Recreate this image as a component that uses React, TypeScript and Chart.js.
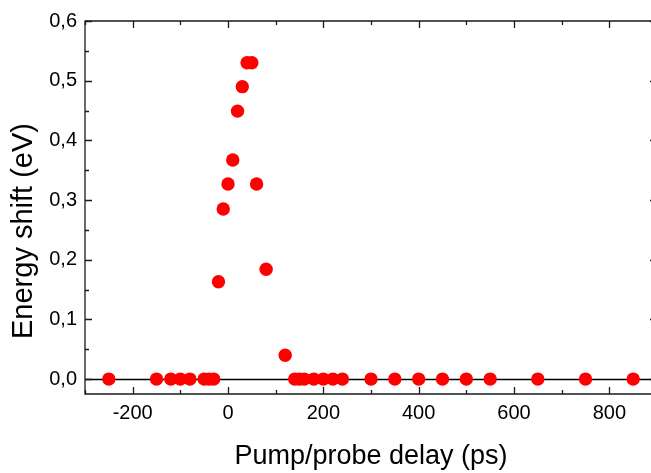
import React, { useEffect, useRef } from "react";
import { Chart, registerables } from "chart.js";

Chart.register(...registerables);

const delays = [-250, -150, -120, -100, -80, -50, -40, -30, -20, -10, 0, 10, 20, 30, 40, 50, 60, 80, 120, 140, 150, 160, 180, 200, 220, 240, 300, 350, 400, 450, 500, 550, 650, 750, 850];
const shifts = [0, 0, 0, 0, 0, 0, 0, 0, 0.163, 0.285, 0.327, 0.367, 0.449, 0.49, 0.53, 0.53, 0.327, 0.184, 0.04, 0, 0, 0, 0, 0, 0, 0, 0, 0, 0, 0, 0, 0, 0, 0, 0];
const xMajorTicks = [-200, 0, 200, 400, 600, 800];
const xMinorTicks = [-300, -100, 100, 300, 500, 700, 900];
const yMajorTicks = [0, 0.1, 0.2, 0.3, 0.4, 0.5, 0.6];
const yMinorTicks = [0.05, 0.15, 0.25, 0.35, 0.45, 0.55];
const xTitle = "Pump/probe delay (ps)";
const yTitle = "Energy shift (eV)";

const FONT = "Arial, 'Liberation Sans', sans-serif";

const framePlugin = {
  id: "frame",
  beforeDatasetsDraw(chart: any) {
    const { ctx, chartArea, scales } = chart;
    const y0 = Math.round(scales.y.getPixelForValue(0)) + 0.5;
    ctx.save();
    ctx.strokeStyle = "#000";
    ctx.lineWidth = 1.6;
    ctx.beginPath();
    ctx.moveTo(chartArea.left, y0);
    ctx.lineTo(chartArea.right, y0);
    ctx.stroke();
    ctx.restore();
  },
  afterDraw(chart: any) {
    const { ctx, chartArea, scales } = chart;
    const { left, right, top, bottom } = chartArea;
    ctx.save();
    ctx.strokeStyle = "#1a1a1a";
    ctx.lineWidth = 1.3;
    ctx.beginPath();
    ctx.rect(left, top, right - left, bottom - top);
    ctx.stroke();
    const major = 7;
    const minor = 4;
    ctx.beginPath();
    const xt = (v: number, len: number) => {
      const px = Math.round(scales.x.getPixelForValue(v)) + 0.5;
      ctx.moveTo(px, bottom);
      ctx.lineTo(px, bottom - len);
      ctx.moveTo(px, top);
      ctx.lineTo(px, top + len);
    };
    const yt = (v: number, len: number) => {
      const py = Math.round(scales.y.getPixelForValue(v)) + 0.5;
      ctx.moveTo(left, py);
      ctx.lineTo(left + len, py);
      ctx.moveTo(right, py);
      ctx.lineTo(right - len, py);
    };
    xMajorTicks.forEach((v) => xt(v, major));
    xMinorTicks.forEach((v) => xt(v, minor));
    yMajorTicks.forEach((v) => yt(v, major));
    yMinorTicks.forEach((v) => yt(v, minor));
    ctx.stroke();

    // y-axis title
    ctx.translate(24, 231);
    ctx.rotate(-Math.PI / 2);
    ctx.fillStyle = "#000";
    ctx.font = `29px ${FONT}`;
    ctx.textAlign = "center";
    ctx.textBaseline = "middle";
    ctx.fillText(yTitle, 0, 0);
    ctx.restore();
  },
};

export default function App() {
  const ref = useRef<HTMLCanvasElement | null>(null);
  useEffect(() => {
    if (!ref.current) return;
    const chart = new Chart(ref.current, {
      type: "scatter",
      data: {
        datasets: [
          {
            data: delays.map((d, i) => ({ x: d, y: shifts[i] })),
            backgroundColor: "#ff0000",
            borderWidth: 0,
            pointRadius: 6.7,
            pointHoverRadius: 6.7,
          },
        ],
      },
      options: {
        animation: false,
        responsive: false,
        devicePixelRatio: 1,
        events: [],
        layout: { padding: { top: 21, right: 23, left: 0, bottom: 0 } },
        plugins: { legend: { display: false }, tooltip: { enabled: false } },
        scales: {
          x: {
            type: "linear",
            min: -300,
            max: 900,
            afterFit: (s: any) => { s.height = 79; },
            afterBuildTicks: (s: any) => { s.ticks = xMajorTicks.map((v) => ({ value: v })); },
            grid: { display: false, drawTicks: false },
            border: { display: false },
            ticks: {
              color: "#000",
              padding: 7,
              maxRotation: 0,
              font: { family: FONT, size: 20 },
              callback: (v: any) => String(v),
            },
            title: {
              display: true,
              text: xTitle,
              color: "#000",
              font: { family: FONT, size: 27 },
              padding: { top: 0, bottom: 0 },
            },
          },
          y: {
            type: "linear",
            min: -0.025,
            max: 0.6,
            afterFit: (s: any) => { s.width = 85; },
            afterBuildTicks: (s: any) => { s.ticks = yMajorTicks.map((v) => ({ value: v })); },
            grid: { display: false, drawTicks: false },
            border: { display: false },
            ticks: {
              color: "#000",
              padding: 8,
              font: { family: FONT, size: 20 },
              callback: (v: any) => Number(v).toFixed(1).replace(".", ","),
            },
            title: { display: false },
          },
        },
      },
      plugins: [framePlugin],
    });
    return () => chart.destroy();
  }, []);
  return (
    <div style={{ position: "fixed", left: 0, top: 0, width: 651, height: 473, overflow: "hidden", background: "#fff" }}>
      <canvas ref={ref} width={680} height={473} style={{ display: "block" }} />
    </div>
  );
}
